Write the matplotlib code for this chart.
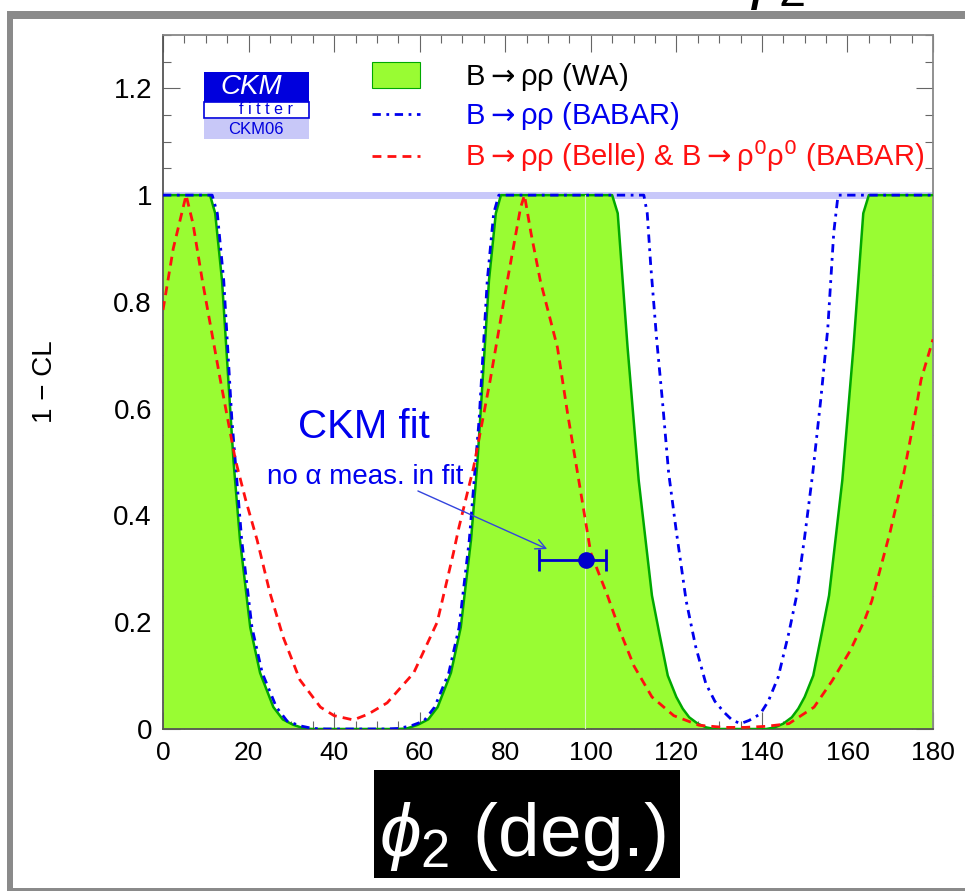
import matplotlib
import matplotlib.pyplot as plt
from matplotlib.patches import Rectangle
from matplotlib.lines import Line2D
from matplotlib.ticker import MultipleLocator, FuncFormatter

matplotlib.use("Agg")

plt.rcParams["font.family"] = ["Liberation Sans", "DejaVu Sans"]
plt.rcParams["mathtext.fontset"] = "custom"
plt.rcParams["mathtext.rm"] = "Liberation Sans"
plt.rcParams["mathtext.it"] = "Liberation Sans:italic"
plt.rcParams["mathtext.fallback"] = "cm"

# B -> rho rho world average (filled)
wa_phi2 = [0, 11, 12.2, 13.8, 15.7, 16.5, 18, 20.4, 22.7, 25.8,
           28, 30.4, 33, 35, 55, 57, 59.6, 62, 64.2, 67.3,
           69.6, 72, 73.5, 74.3, 76.2, 77.8, 79, 105, 106.3, 108.6,
           111.2, 114.3, 116, 118, 120, 121.5, 123, 125, 127, 129,
           141, 143, 145, 147, 148.5, 150, 152, 154, 155.7, 158.8,
           161.4, 163.7, 165, 180]
wa_cl = [1, 1, 0.966, 0.84, 0.60, 0.50, 0.354, 0.19, 0.105, 0.041,
         0.018, 0.008, 0.001, 0, 0, 0.001, 0.008, 0.018, 0.041, 0.105,
         0.19, 0.354, 0.50, 0.60, 0.84, 0.966, 1, 1, 0.966, 0.715,
         0.466, 0.25, 0.18, 0.10, 0.06, 0.038, 0.022, 0.01, 0.003, 0,
         0, 0.003, 0.01, 0.022, 0.038, 0.06, 0.10, 0.18, 0.25, 0.466,
         0.715, 0.966, 1, 1]

# B -> rho rho (BABAR)
babar_phi2 = [0, 11.5, 12.7, 14.2, 16.1, 18.4, 20.8, 23.2, 26.5, 29,
              32, 35, 38, 52, 55, 58, 61, 63.5, 66.8, 69.2,
              71.6, 73.9, 75.8, 77.3, 78.5, 112.4, 113.2, 114, 115.4, 116.8,
              118.2, 120, 122.3, 124.5, 126.9, 129, 131.2, 133, 135, 137,
              139.6, 141.5, 143.8, 146.3, 148, 150, 151.9, 153.8, 155.4, 156.1,
              156.8, 157.8, 180]
babar_cl = [1, 1, 0.966, 0.84, 0.58, 0.354, 0.19, 0.105, 0.041, 0.015,
            0.006, 0.001, 0, 0, 0.001, 0.006, 0.015, 0.041, 0.105, 0.19,
            0.354, 0.58, 0.84, 0.966, 1, 1, 0.966, 0.87, 0.73, 0.61,
            0.48, 0.37, 0.24, 0.155, 0.085, 0.052, 0.031, 0.017, 0.01, 0.016,
            0.028, 0.052, 0.097, 0.18, 0.245, 0.36, 0.48, 0.62, 0.75, 0.84,
            0.93, 1, 1]

# B -> rho rho (Belle) & B -> rho0 rho0 (BABAR)
belle_phi2 = [0, 2.4, 5.4, 7.0, 9.2, 11.3, 13.4, 16.9, 19.3, 22,
              25, 28.1, 32, 36.8, 40, 44.5, 48, 52.4, 58.6, 64.1,
              67.9, 69.1, 72.6, 76.5, 80.5, 83.6, 84.5, 86, 88.2, 92.2,
              94.6, 96.9, 100, 103.9, 107, 110.1, 114.3, 119.4, 125.3, 131.2,
              136, 141, 146.3, 152.2, 156.4, 160.6, 164, 165.7, 170, 173.2,
              175.6, 177.2, 180]
belle_cl = [0.785, 0.90, 1.0, 0.947, 0.84, 0.747, 0.654, 0.505, 0.43, 0.354,
            0.255, 0.172, 0.092, 0.041, 0.025, 0.017, 0.028, 0.049, 0.105, 0.20,
            0.33, 0.375, 0.49, 0.654, 0.84, 0.977, 1.0, 0.93, 0.84, 0.715,
            0.59, 0.48, 0.33, 0.25, 0.18, 0.118, 0.06, 0.025, 0.007, 0.003,
            0.003, 0.005, 0.01, 0.041, 0.09, 0.146, 0.204, 0.24, 0.37, 0.48,
            0.58, 0.654, 0.73]

# CKM fit (no alpha measurement)
fit_phi2 = 98.8
fit_cl = 0.316
fit_lo = 88.0
fit_hi = 103.6

W, H = 965, 896
GREEN = "#99fc33"
BLUE = "#0000ee"
RED = "#ff1010"


def fx(px):
    return px / W


def fy(py):
    return 1 - py / H


fig = plt.figure(figsize=(W / 100, H / 100), dpi=100)

# outer gray frame
for (x0, y0, x1, y1) in [(7, 11, 13, 891), (7, 11, W, 19), (7, 888, W, 891)]:
    fig.patches.append(Rectangle((fx(x0), fy(y1)), (x1 - x0) / W, (y1 - y0) / H,
                                 transform=fig.transFigure, fc="#8a8a8a", ec="none"))

ax = fig.add_axes([fx(163), fy(729), 770 / W, 694 / H])

ax.axhline(1, color="#c8c8fa", lw=5, zorder=1)
ax.fill_between(wa_phi2, wa_cl, 0, color=GREEN, lw=0, zorder=2)
ax.plot(wa_phi2, wa_cl, color="#00a800", lw=1.8, zorder=3)
ax.axvline(98.6, ymax=1 / 1.3, color="#d6f8b8", lw=0.8, zorder=3)
ax.plot(babar_phi2, babar_cl, color=BLUE, lw=2, ls=(0, (3, 2, 1, 2)), zorder=4)
ax.plot(belle_phi2, belle_cl, color=RED, lw=2, ls=(0, (3.2, 2.2)), zorder=4)

ax.errorbar(fit_phi2, fit_cl, xerr=[[fit_phi2 - fit_lo], [fit_hi - fit_phi2]],
            fmt="o", color="#0000cc", ms=11, capsize=8, elinewidth=2, capthick=2, zorder=6)

ax.text(47.0, 0.566, "CKM fit", color=BLUE, fontsize=29, ha="center", va="center", zorder=7)
ax.text(47.2, 0.472, "no α meas. in fit", color=BLUE, fontsize=20, ha="center", va="center",
        zorder=7)
ax.annotate("", xy=(90.4, 0.335), xytext=(59.0, 0.448),
            arrowprops=dict(arrowstyle="->", color="#3344dd", lw=1, mutation_scale=18),
            zorder=7)

ax.set_xlim(0, 180)
ax.set_ylim(0, 1.3)
ax.xaxis.set_major_locator(MultipleLocator(20))
ax.xaxis.set_minor_locator(MultipleLocator(5))
ax.yaxis.set_major_locator(MultipleLocator(0.2))
ax.yaxis.set_minor_locator(MultipleLocator(0.05))
ax.yaxis.set_major_formatter(FuncFormatter(lambda v, p: "%g" % round(v, 2)))
ax.tick_params(which="both", direction="in", top=True, right=True, color="#666666",
               labelsize=19, width=0.8)
ax.tick_params(axis="y", labelsize=20)
ax.tick_params(which="major", length=12)
ax.tick_params(which="minor", length=6)
ax.tick_params(axis="x", pad=9)
ax.tick_params(axis="y", pad=8)
for side, sp in ax.spines.items():
    sp.set_color("#555555" if side in ("left", "bottom") else "#888888")
    sp.set_linewidth(1.3)

ax.set_ylabel("1 − CL", fontsize=20, labelpad=40)


# legend drawn in axes fraction
def ax_x(px):
    return (px - 163) / 770


def ax_y(py):
    return (729 - py) / 694


ax.add_patch(Rectangle((ax_x(372), ax_y(88)), 48 / 770, 26 / 694, transform=ax.transAxes,
                       fc=GREEN, ec="#00a800", lw=0.8, zorder=8))
ax.add_line(Line2D([ax_x(372), ax_x(420)], [ax_y(114)] * 2, transform=ax.transAxes,
                   color=BLUE, lw=2, ls=(0, (3, 2, 1, 2)), zorder=8))
ax.add_line(Line2D([ax_x(372), ax_x(420)], [ax_y(156)] * 2, transform=ax.transAxes,
                   color=RED, lw=2, ls=(0, (3.2, 2.2)), zorder=8))
leg_kw = dict(transform=ax.transAxes, fontsize=21, ha="left", va="center", zorder=8,
              math_fontfamily="dejavusans")
ax.text(ax_x(465), ax_y(77), r"B$\rightarrow$ρρ (WA)", color="black", **leg_kw)
ax.text(ax_x(465), ax_y(116), r"B$\rightarrow$ρρ (BABAR)", color=BLUE, **leg_kw)
ax.text(ax_x(465), ax_y(156), r"B$\rightarrow$ρρ (Belle) & B$\rightarrow$ρ$^0$ρ$^0$ (BABAR)",
        color=RED, **leg_kw)

# CKMfitter logo
fig.patches.append(Rectangle((fx(204), fy(102)), 105 / W, 30 / H, transform=fig.transFigure,
                             fc="#0000dd", ec="none"))
fig.patches.append(Rectangle((fx(204), fy(118)), 105 / W, 16 / H, transform=fig.transFigure,
                             fc="white", ec="#0000dd", lw=1.2))
fig.patches.append(Rectangle((fx(204), fy(139)), 105 / W, 20 / H, transform=fig.transFigure,
                             fc="#c8c8f8", ec="none"))
fig.text(fx(251), fy(87), "CKM", color="white", fontsize=20, style="italic",
         ha="center", va="center")
fig.text(fx(266), fy(110), "f i t t e r", color="#0000dd", fontsize=11.5,
         ha="center", va="center")
fig.text(fx(256), fy(129), "CKM06", color="#0000dd", fontsize=12, ha="center", va="center")

# x-axis label on black box
fig.patches.append(Rectangle((fx(374), fy(878)), 306 / W, 108 / H, transform=fig.transFigure,
                             fc="black", ec="none"))
fig.text(fx(379), fy(856), r"$\phi_2$ (deg.)", color="white", fontsize=54,
         ha="left", va="baseline")

# cut-off label fragment at the top edge
fig.text(fx(740), fy(-4), r"$\phi_2$", color="black", fontsize=50, ha="left", va="baseline")

fig.savefig("out.png", dpi=100)
